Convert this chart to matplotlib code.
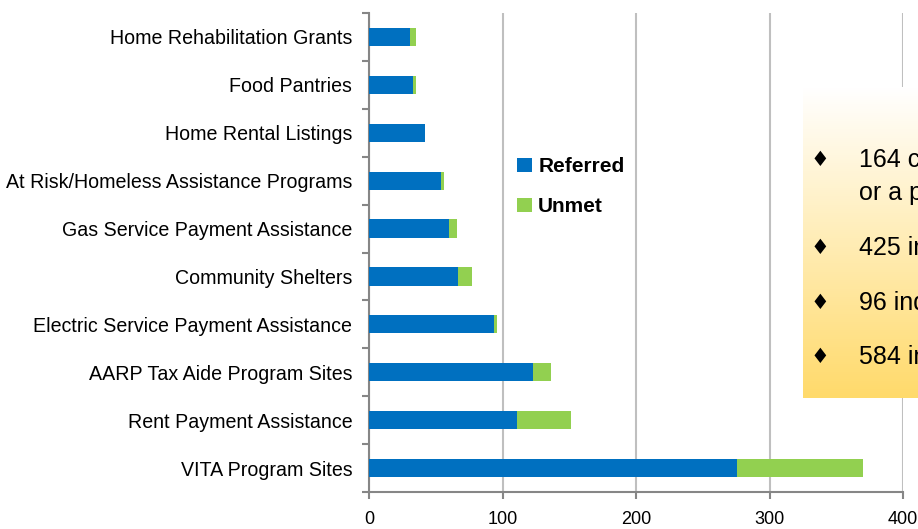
import matplotlib
matplotlib.use("Agg")
import matplotlib.pyplot as plt
import numpy as np

plt.rcParams['font.family'] = ['Liberation Sans', 'DejaVu Sans']

categories = ["Home Rehabilitation Grants", "Food Pantries", "Home Rental Listings",
              "At Risk/Homeless Assistance Programs", "Gas Service Payment Assistance",
              "Community Shelters", "Electric Service Payment Assistance",
              "AARP Tax Aide Program Sites", "Rent Payment Assistance", "VITA Program Sites"]
referred = [31, 33, 42, 54, 60, 67, 94, 123, 111, 276]
unmet = [4, 2, 0, 2, 6, 10, 2, 13, 40, 94]
xticks = [0, 100, 200, 300, 400]
box_lines = ["164 callers", "or a previous", "425 individuals", "96 individuals", "584 individuals"]

W, H = 918, 529
fig = plt.figure(figsize=(W/100, H/100), dpi=100)
ax = fig.add_axes([369/W, 1-492/H, (903-369)/W, (492-13)/H])

blue = "#0070C0"
green = "#92D050"
y = np.arange(len(categories))[::-1]
ax.barh(y, referred, height=0.38, color=blue, label="Referred", zorder=3)
ax.barh(y, unmet, left=referred, height=0.38, color=green, label="Unmet", zorder=3)

ax.set_xlim(0, 400)
ax.set_ylim(-0.5, len(categories)-0.5)
ax.set_xticks(xticks)
ax.set_xticklabels([str(v) for v in xticks], fontsize=13)
ax.set_yticks(y)
ax.set_yticklabels(categories, fontsize=14.1)
ax.set_yticks(np.arange(-0.5, len(categories)), minor=True)
ax.tick_params(axis='y', which='major', length=0, pad=12)
ax.tick_params(axis='y', which='minor', length=5, width=1.5, color="#868686", direction='out')
ax.tick_params(axis='x', which='major', length=5, width=1.5, color="#868686", pad=9)

for s in ['top', 'right']:
    ax.spines[s].set_visible(False)
for s in ['left', 'bottom']:
    ax.spines[s].set_color("#868686")
    ax.spines[s].set_linewidth(1.5)
ax.grid(axis='x', color="#BFBFBF", linewidth=1.5, zorder=0)
ax.set_axisbelow(True)

leg = ax.legend(loc='upper left', bbox_to_anchor=(140/534, 1-136/479), frameon=False,
                prop={'weight': 'bold', 'size': 15}, handlelength=0.7, handleheight=0.7,
                handletextpad=0.3, labelspacing=1.0, borderaxespad=0)

# gradient text box
bx0, by0, bx1, by1 = 803, 87, 940, 398
bax = fig.add_axes([bx0/W, 1-by1/H, (bx1-bx0)/W, (by1-by0)/H])
grad = np.linspace(0, 1, 256)[:, None]
top_c = np.array([1.0, 1.0, 1.0])
bot_c = np.array([0xFF, 0xDA, 0x6B]) / 255
img = top_c[None, None, :] * (1 - grad[:, :, None]) + bot_c[None, None, :] * grad[:, :, None]
bax.imshow(img, aspect='auto', extent=[0, 1, 0, 1])
bax.axis('off')

ys = [160, 193, 248, 303, 357]
bullets = [True, False, True, True, True]
for txt, yy, b in zip(box_lines, ys, bullets):
    if b:
        fig.text(820/W, 1-yy/H, "\u2666", fontsize=15, ha='center', va='center',
                 family=['DejaVu Sans'])
    fig.text(859/W, 1-yy/H, txt, fontsize=18, ha='left', va='center')

fig.savefig("out.png", dpi=100)
